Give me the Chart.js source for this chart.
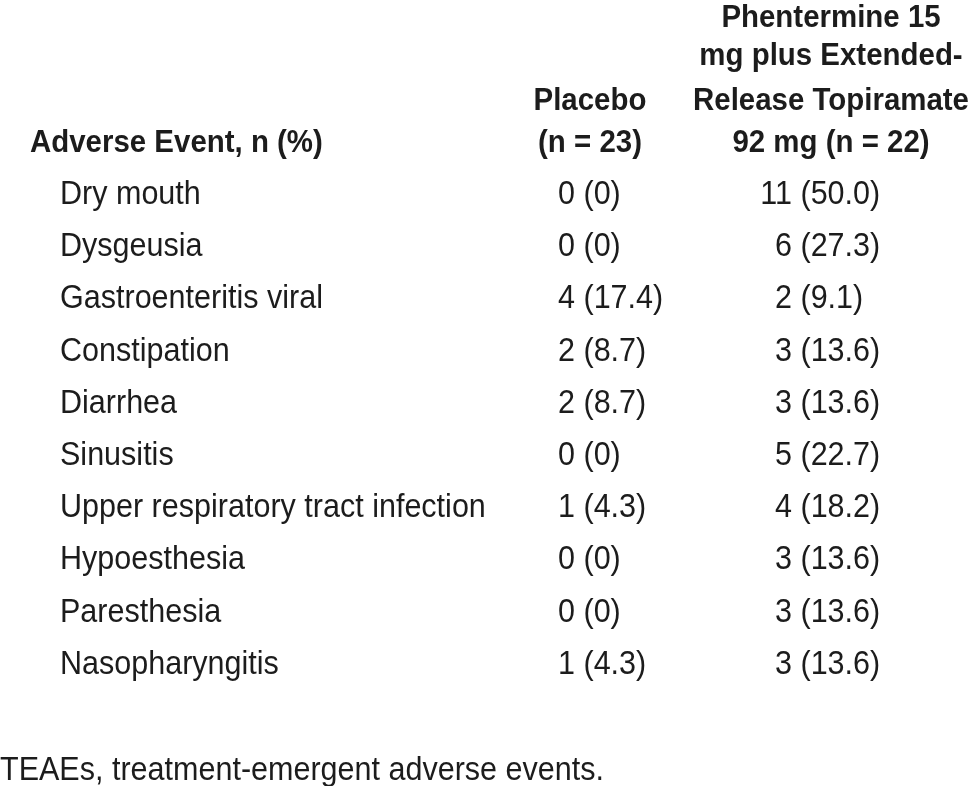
<!DOCTYPE html>
<html>
<head>
<meta charset="utf-8">
<script src="https://cdn.jsdelivr.net/npm/chart.js@4.4.0/dist/chart.umd.min.js"></script>
<style>
  html, body { margin: 0; padding: 0; background: #fff; }
  #table { display: block; }
</style>
</head>
<body>
<canvas id="table" width="972" height="786"></canvas>
<script>
// Data
const events = ['Dry mouth', 'Dysgeusia', 'Gastroenteritis viral', 'Constipation', 'Diarrhea',
  'Sinusitis', 'Upper respiratory tract infection', 'Hypoesthesia', 'Paresthesia', 'Nasopharyngitis'];
const placeboN = [0, 0, 4, 2, 2, 0, 1, 0, 0, 1];
const placeboPct = ['0', '0', '17.4', '8.7', '8.7', '0', '4.3', '0', '0', '4.3'];
const phenN = [11, 6, 2, 3, 3, 5, 4, 3, 3, 3];
const phenPct = ['50.0', '27.3', '9.1', '13.6', '13.6', '22.7', '18.2', '13.6', '13.6', '13.6'];

const headFirst = ['Adverse Event, n (%)'];
const headPlacebo = ['Placebo', '(n = 23)'];
const headPhen = ['Phentermine 15', 'mg plus Extended-', 'Release Topiramate', '92 mg (n = 22)'];
const footnote = 'TEAEs, treatment-emergent adverse events.';

// Layout (x in pixels, y in row units, header lines counted up from the last one)
const colEvent = 60, colHead = 30, colPlacebo = 575, colPlaceboHead = 590;
const colPhen = 792, colPhenHead = 831;
const headLineRows = [-1, -1.805, -2.667, -3.395];
const footRow = 11.03;

const ink = '#1c1c1c';
const regFont = '33px "Liberation Sans", Arial, sans-serif';
const boldFont = 'bold 32px "Liberation Sans", Arial, sans-serif';
const regScale = 0.925, boldScale = 0.92;

function drawText(ctx, str, x, y, align, font, sx) {
  ctx.save();
  ctx.font = font;
  ctx.fillStyle = ink;
  ctx.textBaseline = 'alphabetic';
  ctx.translate(x, y);
  ctx.scale(sx, 1);
  ctx.textAlign = align;
  ctx.fillText(str, 0, 0);
  ctx.restore();
}

function drawHeader(ctx, xs, ys, lines, col, align) {
  const n = lines.length;
  lines.forEach((t, k) => {
    const row = headLineRows[n - 1 - k];
    drawText(ctx, t, xs.getPixelForValue(col), ys.getPixelForValue(row), align, boldFont, boldScale);
  });
}

const rowIdx = events.map((e, i) => i);

const tablePlugin = {
  id: 'tableText',
  afterDatasetsDraw(chart) {
    const ctx = chart.ctx;
    const xs = chart.scales.x, ys = chart.scales.y;

    // header cells
    drawHeader(ctx, xs, ys, headFirst, colHead, 'left');
    drawHeader(ctx, xs, ys, headPlacebo, colPlaceboHead, 'center');
    drawHeader(ctx, xs, ys, headPhen, colPhenHead, 'center');

    // body cells from dataset points
    const evMeta = chart.getDatasetMeta(0);
    const plMeta = chart.getDatasetMeta(1);
    const phMeta = chart.getDatasetMeta(2);
    evMeta.data.forEach((pt, i) => drawText(ctx, events[i], pt.x, pt.y, 'left', regFont, regScale));
    plMeta.data.forEach((pt, i) => {
      drawText(ctx, String(placeboN[i]), pt.x, pt.y, 'right', regFont, regScale);
      drawText(ctx, ' (' + placeboPct[i] + ')', pt.x, pt.y, 'left', regFont, regScale);
    });
    phMeta.data.forEach((pt, i) => {
      drawText(ctx, String(phenN[i]), pt.x, pt.y, 'right', regFont, regScale);
      drawText(ctx, ' (' + phenPct[i] + ')', pt.x, pt.y, 'left', regFont, regScale);
    });

    // footnote
    drawText(ctx, footnote, xs.getPixelForValue(0), ys.getPixelForValue(footRow), 'left', regFont, regScale);
  }
};

new Chart(document.getElementById('table'), {
  type: 'scatter',
  data: {
    datasets: [
      { label: 'Adverse Event', data: rowIdx.map(i => ({ x: colEvent, y: i })), pointRadius: 0 },
      { label: 'Placebo', data: rowIdx.map(i => ({ x: colPlacebo, y: i })), pointRadius: 0 },
      { label: 'PHEN/TPM ER', data: rowIdx.map(i => ({ x: colPhen, y: i })), pointRadius: 0 }
    ]
  },
  options: {
    responsive: false,
    animation: false,
    layout: { padding: 0 },
    plugins: {
      legend: { display: false },
      tooltip: { enabled: false }
    },
    scales: {
      x: { type: 'linear', min: 0, max: 972, display: false },
      y: { type: 'linear', min: -3.908, max: 11.149, reverse: true, display: false }
    }
  },
  plugins: [tablePlugin]
});
</script>
</body>
</html>
